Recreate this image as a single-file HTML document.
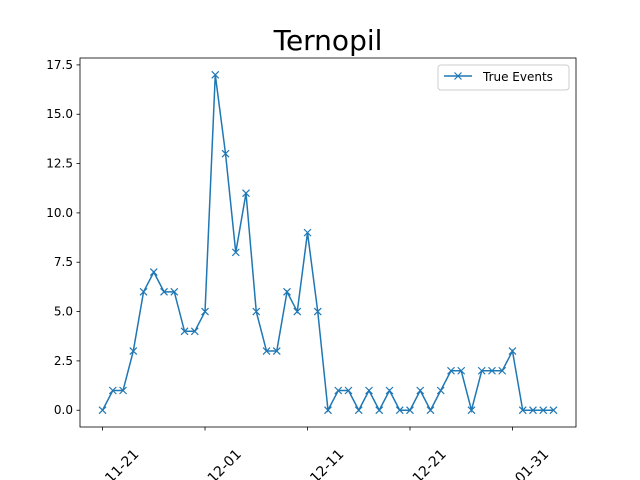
<!DOCTYPE html>
<html><head><meta charset="utf-8"><style>
html,body{margin:0;background:#fff;width:640px;height:480px;overflow:hidden}
svg{font-family:"DejaVu Sans","Liberation Sans",sans-serif;display:block}
</style></head><body>
<svg width="640" height="480" viewBox="0 0 640 480">
<rect width="640" height="480" fill="#fff"/>
<text x="328" y="50" text-anchor="middle" font-size="28">Ternopil</text>
<g id="plot"></g>
</svg>
<script>
const values=[0,1,1,3,6,7,6,6,4,4,5,17,13,8,11,5,3,3,6,5,9,5,0,1,1,0,1,0,1,0,0,1,0,1,2,2,0,2,2,2,3,0,0,0,0];
const yTicks=[0,2.5,5,7.5,10,12.5,15,17.5];
const yTickLabels=["0.0","2.5","5.0","7.5","10.0","12.5","15.0","17.5"];
const xTickDays=[0,10,20,30,40];
const xTickLabels=["2021-11-21","2021-12-01","2021-12-11","2021-12-21","2022-01-31"];
const ns="http://www.w3.org/2000/svg";
const L=80,R=576,T=58,B=427;
const n=values.length-1;
const xmin=-0.05*n,xmax=n*1.05;
const vmax=Math.max(...values),ymin=-0.05*vmax,ymax=vmax*1.05;
const xs=d=>L+(d-xmin)/(xmax-xmin)*(R-L);
const ys=v=>B-(v-ymin)/(ymax-ymin)*(B-T);
const g=document.getElementById('plot');
function mk(t,a){const e=document.createElementNS(ns,t);for(const k in a)e.setAttribute(k,a[k]);g.appendChild(e);return e;}
yTicks.forEach((v,i)=>{
 const y=ys(v);
 const t=mk('line',{x1:L-3.5,x2:L,y1:y,y2:y,stroke:'#000','stroke-width':0.8});
 
 
 const l=mk('text',{x:L-7,y:y+4,'text-anchor':'end','font-size':12});
 l.textContent=yTickLabels[i];
 
 
});
xTickDays.forEach((d,i)=>{
 const x=xs(d);
 const t=mk('line',{x1:x,x2:x,y1:B,y2:B+3.5,stroke:'#000','stroke-width':0.8});
 
 
 const l=mk('text',{x:0,y:0,'text-anchor':'end','font-size':14,transform:`translate(${x+37},${B+28}) rotate(-45)`});
 l.textContent=xTickLabels[i];
 
 
});
const pts=values.map((v,i)=>xs(i)+','+ys(v)).join(' ');
const line=mk('polyline',{points:pts,fill:'none',stroke:'#1f77b4','stroke-width':1.5});


values.forEach((v,i)=>{
 const x=xs(i),y=ys(v),s=3.5;
 const m=mk('path',{d:`M${x-s},${y-s}L${x+s},${y+s}M${x-s},${y+s}L${x+s},${y-s}`,stroke:'#1f77b4','stroke-width':1.2});
 
 
});
const frame=mk('rect',{x:L,y:T,width:R-L,height:B-T,fill:'none',stroke:'#000','stroke-width':0.8});


const lg=mk('rect',{x:438,y:65,width:131,height:25,fill:'#fff',stroke:'#ccc','stroke-width':1,rx:3});


const ll=mk('line',{x1:444,x2:472,y1:76,y2:76,stroke:'#1f77b4','stroke-width':1.5});


const lm=mk('path',{d:'M454.5,72.5L461.5,79.5M454.5,79.5L461.5,72.5',stroke:'#1f77b4','stroke-width':1.2});


const lt=mk('text',{x:483,y:81,'font-size':12});
lt.textContent='True Events';


</script>
</body></html>
